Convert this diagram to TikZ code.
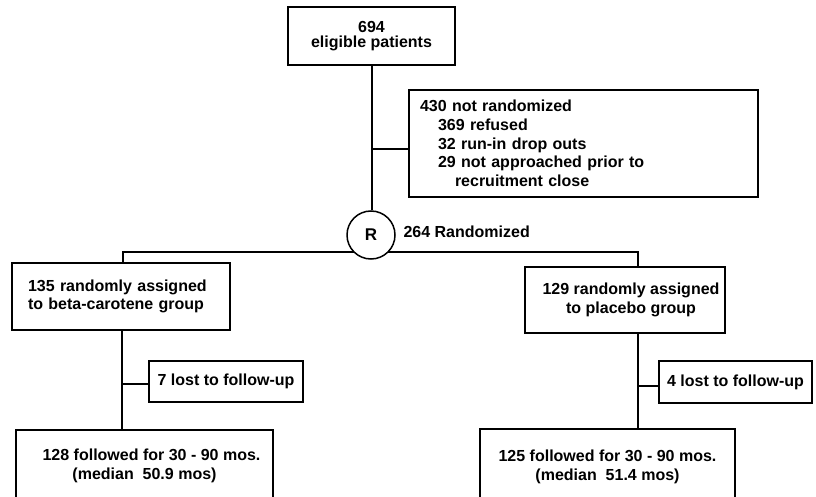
\documentclass[tikz,border=0pt]{standalone}
\usepackage{fontspec}
\setmainfont{Liberation Sans}
\usetikzlibrary{backgrounds}
\begin{document}
\begin{tikzpicture}[x=1pt,y=-1pt,
  every node/.style={font=\fontsize{16}{18.7}\selectfont\bfseries},
  boxed/.style={draw,line width=1.5pt,rectangle,inner sep=0pt,fill=white},
  conn/.style={line width=1.5pt}]
\clip (0,0) rectangle (816,497);
% boxes
\node[boxed,minimum width=167pt,minimum height=58pt,align=center] (top) at (371.5,36) {694\\[-3pt]eligible patients};
\node[boxed,minimum width=349pt,minimum height=107pt,inner xsep=11pt,text width=327pt,align=left] (nr) at (583.5,143.5)
  {430 not randomized\\
   \hspace*{18pt}369 refused\\
   \hspace*{18pt}32 run-in drop outs\\
   \hspace*{18pt}29 not approached prior to\\
   \hspace*{35pt}recruitment close};
\node[boxed,circle,minimum size=48pt,font=\fontsize{17}{18}\selectfont\bfseries] (R) at (371,235) {R};
\node[anchor=west] (rlab) at (400,232) {264 Randomized};
\node[boxed,minimum width=218pt,minimum height=67pt,inner xsep=16pt,text width=186pt,align=left] (L) at (121,296.5)
  {135 randomly assigned\\to beta-carotene group};
\node[boxed,minimum width=200pt,minimum height=66pt,align=center] (P) at (625,300)
  {\hspace*{12pt}129 randomly assigned\\\hspace*{12pt}to placebo group};
\node[boxed,minimum width=154pt,minimum height=41pt] (Llost) at (226,381.5) {7 lost to follow-up};
\node[boxed,minimum width=153pt,minimum height=42pt] (Plost) at (735.5,382) {4 lost to follow-up};
\node[boxed,minimum width=257pt,minimum height=72pt,align=center] (Lend) at (144.5,466)
  {\hspace*{14pt}128 followed for 30 - 90 mos.\\(median\ \ 50.9 mos)};
\node[boxed,minimum width=255pt,minimum height=76pt,align=center] (Pend) at (607.5,467)
  {125 followed for 30 - 90 mos.\\(median\ \ 51.4 mos)};
% connectors
\coordinate (j1) at (372,149);
\coordinate (hl) at (123,252);
\coordinate (hr) at (638,252);
\coordinate (jl) at (122,384);
\coordinate (jr) at (638,386);
\begin{scope}[on background layer]
\fill[white] (0,0) rectangle (816,497);
\draw[conn] (top.south -| j1) -- (R.north -| j1);
\draw[conn] (j1) -- (nr.west |- j1);
\draw[conn] (hl |- L.north) -- (hl) -- (hr) -- (hr |- P.north);
\draw[conn] (jl |- L.south) -- (jl |- Lend.north);
\draw[conn] (jl) -- (Llost.west |- jl);
\draw[conn] (jr |- P.south) -- (jr |- Pend.north);
\draw[conn] (jr) -- (Plost.west |- jr);
\end{scope}
\end{tikzpicture}
\end{document}
